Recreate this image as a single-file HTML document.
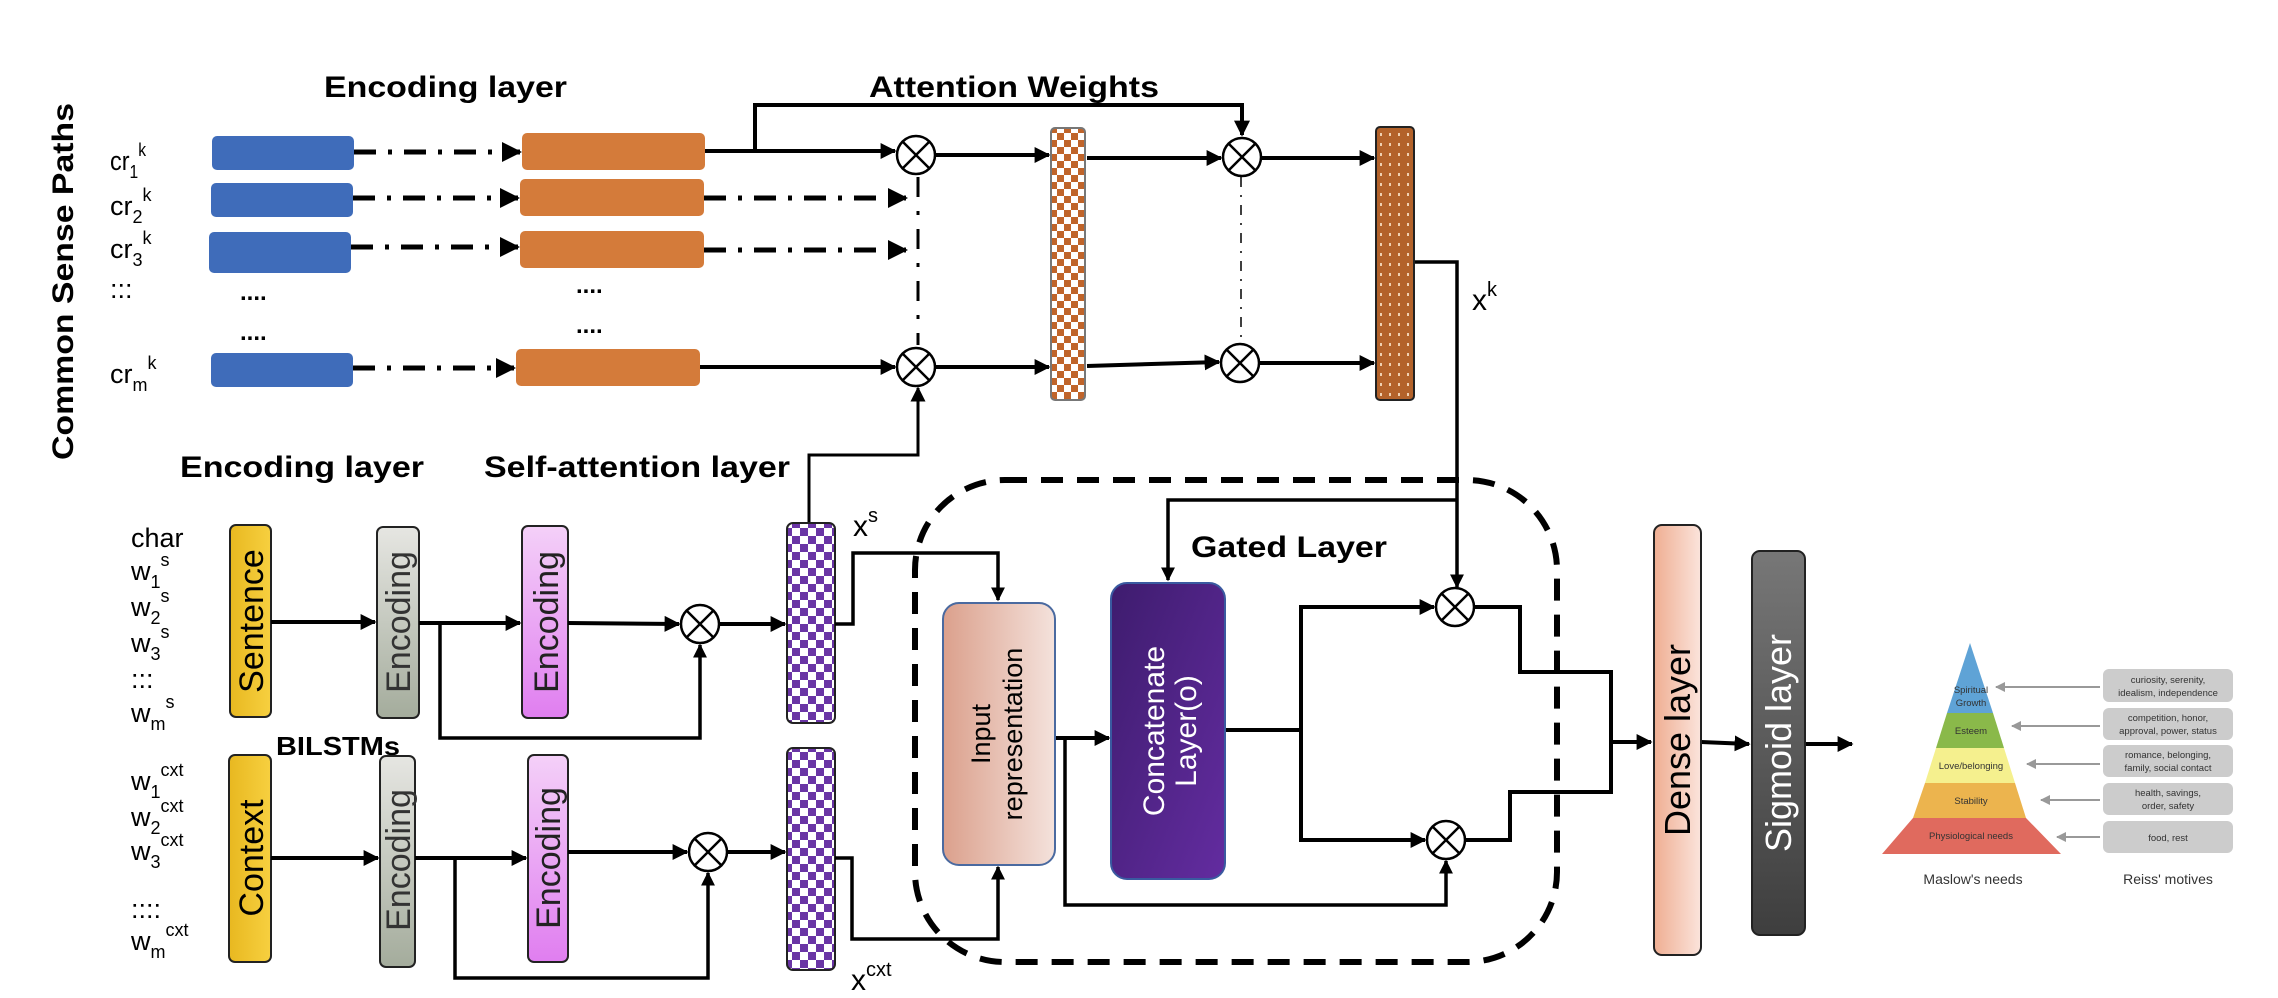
<!DOCTYPE html>
<html><head><meta charset="utf-8"><style>
html,body{margin:0;padding:0;background:#fff;}
svg{display:block;}
text{font-family:"Liberation Sans",sans-serif;}
</style></head><body>
<svg width="2278" height="998" viewBox="0 0 2278 998" xmlns="http://www.w3.org/2000/svg">
<defs>
<marker id="a" viewBox="0 0 10 10" refX="9" refY="5" markerWidth="4" markerHeight="4" orient="auto-start-reverse" markerUnits="strokeWidth"><path d="M0,0L10,5L0,10z" fill="#000"/></marker>
<marker id="ab" viewBox="0 0 10 10" refX="9" refY="5" markerWidth="5" markerHeight="5" orient="auto" markerUnits="strokeWidth"><path d="M0,0L10,5L0,10z" fill="#000"/></marker>
<marker id="ag" viewBox="0 0 10 10" refX="9" refY="5" markerWidth="5" markerHeight="6" orient="auto" markerUnits="strokeWidth"><path d="M0,0L10,5L0,10z" fill="#999"/></marker>
<pattern id="cp" width="16" height="16" patternUnits="userSpaceOnUse"><rect width="16" height="16" fill="#fff"/><rect width="8" height="8" fill="#6a35a5"/><rect x="8" y="8" width="8" height="8" fill="#6a35a5"/></pattern>
<pattern id="co" width="14" height="14" patternUnits="userSpaceOnUse"><rect width="14" height="14" fill="#fff"/><rect width="7" height="7" fill="#c0642a"/><rect x="7" y="7" width="7" height="7" fill="#c0642a"/></pattern>
<pattern id="dt" width="9" height="10" patternUnits="userSpaceOnUse"><rect width="9" height="10" fill="#b3622a"/><rect x="3" y="3" width="2" height="3" fill="#f0d0b0"/></pattern>
<linearGradient id="gy" x1="0" x2="1"><stop offset="0" stop-color="#e8b820"/><stop offset="1" stop-color="#f7d040"/></linearGradient>
<linearGradient id="gg" x1="0" x2="0" y1="0" y2="1"><stop offset="0" stop-color="#e6e6e2"/><stop offset="1" stop-color="#a4ac9c"/></linearGradient>
<linearGradient id="gp" x1="0" x2="0" y1="0" y2="1"><stop offset="0" stop-color="#f4d0f8"/><stop offset="1" stop-color="#e07ef0"/></linearGradient>
<linearGradient id="gs" x1="0" x2="1"><stop offset="0" stop-color="#dba08c"/><stop offset="1" stop-color="#f4e2dc"/></linearGradient>
<linearGradient id="gd" x1="0" x2="1"><stop offset="0" stop-color="#efae92"/><stop offset="1" stop-color="#fbe4dc"/></linearGradient>
<linearGradient id="gc" x1="0" y1="0" x2="1" y2="1"><stop offset="0" stop-color="#3e1c6e"/><stop offset="1" stop-color="#632ca0"/></linearGradient>
<linearGradient id="gm" x1="0" x2="0" y1="0" y2="1"><stop offset="0" stop-color="#777"/><stop offset="1" stop-color="#3e3e3e"/></linearGradient>
<g id="ot"><circle r="19" fill="#fff" stroke="#000" stroke-width="2.5"/><path d="M-13,-13L13,13M13,-13L-13,13" stroke="#000" stroke-width="2.5"/></g>
</defs>

<!-- Titles -->
<text x="65" y="460" transform="rotate(-90 65 460)" font-size="30" font-weight="bold" textLength="357" lengthAdjust="spacingAndGlyphs" dominant-baseline="middle">Common Sense Paths</text>
<text x="324" y="97" font-size="30" font-weight="bold" textLength="243" lengthAdjust="spacingAndGlyphs">Encoding layer</text>
<text x="869" y="97" font-size="30" font-weight="bold" textLength="290" lengthAdjust="spacingAndGlyphs">Attention Weights</text>
<text x="180" y="477" font-size="30" font-weight="bold" textLength="244" lengthAdjust="spacingAndGlyphs">Encoding layer</text>
<text x="484" y="477" font-size="30" font-weight="bold" textLength="306" lengthAdjust="spacingAndGlyphs">Self-attention layer</text>
<text x="1191" y="557" font-size="30" font-weight="bold" textLength="196" lengthAdjust="spacingAndGlyphs">Gated Layer</text>
<text x="276" y="755" font-size="26" font-weight="bold" textLength="124" lengthAdjust="spacingAndGlyphs">BILSTMs</text>

<!-- cr labels -->
<g font-size="27">
<text x="110" y="170" textLength="36" lengthAdjust="spacingAndGlyphs">cr<tspan font-size="18" dy="8">1</tspan><tspan font-size="18" dy="-22">k</tspan></text>
<text x="110" y="215">cr<tspan font-size="18" dy="8">2</tspan><tspan font-size="18" dy="-22">k</tspan></text>
<text x="110" y="258">cr<tspan font-size="18" dy="8">3</tspan><tspan font-size="18" dy="-22">k</tspan></text>
<text x="110" y="298">:::</text>
<text x="110" y="383">cr<tspan font-size="18" dy="8">m</tspan><tspan font-size="18" dy="-22">k</tspan></text>
</g>
<g font-size="24" font-weight="bold">
<text x="240" y="300">....</text><text x="240" y="340">....</text>
<text x="576" y="293">....</text><text x="576" y="333">....</text>
</g>

<!-- blue & orange boxes -->
<g fill="#3f6cba">
<rect x="212" y="136" width="142" height="34" rx="5"/>
<rect x="211" y="183" width="142" height="34" rx="5"/>
<rect x="209" y="232" width="142" height="41" rx="5"/>
<rect x="211" y="353" width="142" height="34" rx="5"/>
</g>
<g fill="#d47b3a">
<rect x="522" y="133" width="183" height="37" rx="5"/>
<rect x="520" y="179" width="184" height="37" rx="5"/>
<rect x="520" y="231" width="184" height="37" rx="5"/>
<rect x="516" y="349" width="184" height="37" rx="5"/>
</g>

<!-- dash-dot connectors -->
<g stroke="#000" stroke-width="5" fill="none" stroke-dasharray="22 12 4 12" marker-end="url(#a)">
<path d="M354,152H520"/>
<path d="M353,198H518"/>
<path d="M351,247H518"/>
<path d="M353,368H514"/>
<path d="M704,198H906" />
<path d="M704,250H906"/>
</g>
<path d="M918,177V345" stroke="#000" stroke-width="3" stroke-dasharray="20 14 4 14" fill="none"/>

<!-- top solid connections -->
<g stroke="#000" stroke-width="4" fill="none">
<path d="M705,151H895" marker-end="url(#a)"/>
<path d="M700,367H895" marker-end="url(#a)"/>
<path d="M755,151V105H1242V135" marker-end="url(#a)"/>
<path d="M935,155H1049" marker-end="url(#a)"/>
<path d="M935,367H1049" marker-end="url(#a)"/>
<path d="M1087,158H1221" marker-end="url(#a)"/>
<path d="M1087,366L1219,362" marker-end="url(#a)"/>
<path d="M1261,158H1374" marker-end="url(#a)"/>
<path d="M1259,363H1374" marker-end="url(#a)"/>
<path d="M809,523V455H918V388" stroke-width="3" marker-end="url(#ab)"/>
<path d="M1415,262H1457V587" stroke-width="3.5" marker-end="url(#a)"/>
<path d="M1457,500H1168V580" stroke-width="3.5" marker-end="url(#a)"/>
</g>
<path d="M1241,177V343" stroke="#000" stroke-width="1.5" stroke-dasharray="10 8 2 8" fill="none"/>

<use href="#ot" x="916" y="155"/>
<use href="#ot" x="916" y="367"/>
<use href="#ot" x="1242" y="157"/>
<use href="#ot" x="1240" y="363"/>

<rect x="1051" y="128" width="34" height="272" rx="4" fill="url(#co)" stroke="#777" stroke-width="2"/>
<rect x="1376" y="127" width="38" height="273" rx="4" fill="url(#dt)" stroke="#222" stroke-width="2"/>
<text x="1472" y="310" font-size="30">x<tspan font-size="20" dy="-14">k</tspan></text>

<!-- dashed gated layer -->
<rect x="915" y="480" width="642" height="482" rx="90" fill="none" stroke="#000" stroke-width="6" stroke-dasharray="22 14"/>

<!-- input labels lower -->
<g font-size="27">
<text x="131" y="547">char</text>
<text x="131" y="580">w<tspan font-size="18" dy="8">1</tspan><tspan font-size="18" dy="-22">s</tspan></text>
<text x="131" y="616">w<tspan font-size="18" dy="8">2</tspan><tspan font-size="18" dy="-22">s</tspan></text>
<text x="131" y="652">w<tspan font-size="18" dy="8">3</tspan><tspan font-size="18" dy="-22">s</tspan></text>
<text x="131" y="688">:::</text>
<text x="131" y="722">w<tspan font-size="18" dy="8">m</tspan><tspan font-size="18" dy="-22">s</tspan></text>
<text x="131" y="790">w<tspan font-size="18" dy="8">1</tspan><tspan font-size="18" dy="-22">cxt</tspan></text>
<text x="131" y="826">w<tspan font-size="18" dy="8">2</tspan><tspan font-size="18" dy="-22">cxt</tspan></text>
<text x="131" y="860">w<tspan font-size="18" dy="8">3</tspan><tspan font-size="18" dy="-22">cxt</tspan></text>
<text x="131" y="918">::::</text>
<text x="131" y="950">w<tspan font-size="18" dy="8">m</tspan><tspan font-size="18" dy="-22">cxt</tspan></text>
<text x="853" y="536" font-size="30">x<tspan font-size="20" dy="-14">s</tspan></text>
<text x="851" y="990" font-size="30">x<tspan font-size="20" dy="-14">cxt</tspan></text>
</g>

<!-- lower boxes -->
<g stroke="#222" stroke-width="2">
<rect x="230" y="525" width="41" height="192" rx="6" fill="url(#gy)"/>
<rect x="377" y="527" width="42" height="191" rx="6" fill="url(#gg)"/>
<rect x="522" y="526" width="46" height="192" rx="6" fill="url(#gp)"/>
<rect x="229" y="755" width="42" height="207" rx="6" fill="url(#gy)"/>
<rect x="380" y="756" width="35" height="211" rx="6" fill="url(#gg)"/>
<rect x="528" y="755" width="40" height="207" rx="6" fill="url(#gp)"/>
<rect x="787" y="523" width="48" height="200" rx="6" fill="url(#cp)"/>
<rect x="787" y="748" width="48" height="222" rx="6" fill="url(#cp)"/>
</g>
<g font-size="34">
<text transform="translate(263,621) rotate(-90)" text-anchor="middle">Sentence</text>
<text transform="translate(410,622) rotate(-90)" text-anchor="middle" fill="#333">Encoding</text>
<text transform="translate(558,622) rotate(-90)" text-anchor="middle" fill="#222">Encoding</text>
<text transform="translate(263,858) rotate(-90)" text-anchor="middle">Context</text>
<text transform="translate(410,860) rotate(-90)" text-anchor="middle" fill="#333">Encoding</text>
<text transform="translate(560,858) rotate(-90)" text-anchor="middle" fill="#222">Encoding</text>
</g>

<g stroke="#000" stroke-width="4" fill="none">
<path d="M271,622H375" marker-end="url(#a)"/>
<path d="M419,623H520" marker-end="url(#a)"/>
<path d="M568,623L679,624" marker-end="url(#a)"/>
<path d="M440,623V738H700V645" stroke-width="3.5" marker-end="url(#a)"/>
<path d="M720,624H785" marker-end="url(#a)"/>
<path d="M271,858H378" marker-end="url(#a)"/>
<path d="M415,858H526" marker-end="url(#a)"/>
<path d="M568,852H687" marker-end="url(#a)"/>
<path d="M455,858V978H708V873" stroke-width="3.5" marker-end="url(#a)"/>
<path d="M728,852H785" marker-end="url(#a)"/>
<path d="M835,624H853V553H998V600" stroke-width="3.5" marker-end="url(#a)"/>
<path d="M835,858H852V939H998V867" stroke-width="3.5" marker-end="url(#a)"/>
<path d="M1055,738H1109" marker-end="url(#a)"/>
<path d="M1065,738V905H1446V861" stroke-width="3.5" marker-end="url(#a)"/>
<path d="M1225,730H1301V607H1434" marker-end="url(#a)"/>
<path d="M1301,730V840H1425" marker-end="url(#a)"/>
<path d="M1475,607H1520V672H1611V792H1510V840H1466"/>
<path d="M1611,742H1651" marker-end="url(#a)"/>
<path d="M1701,742L1749,744" marker-end="url(#a)"/>
<path d="M1805,744H1852" marker-end="url(#a)"/>
</g>
<use href="#ot" x="700" y="624"/>
<use href="#ot" x="708" y="852"/>
<use href="#ot" x="1455" y="607"/>
<use href="#ot" x="1446" y="840"/>

<rect x="943" y="603" width="112" height="262" rx="16" fill="url(#gs)" stroke="#4a6aa0" stroke-width="2"/>
<text transform="translate(990,734) rotate(-90)" text-anchor="middle" font-size="27">Input</text>
<text transform="translate(1022,734) rotate(-90)" text-anchor="middle" font-size="27">representation</text>
<rect x="1111" y="583" width="114" height="296" rx="16" fill="url(#gc)" stroke="#3a5aa0" stroke-width="2"/>
<text transform="translate(1164,731) rotate(-90)" text-anchor="middle" font-size="30" fill="#fff">Concatenate</text>
<text transform="translate(1196,731) rotate(-90)" text-anchor="middle" font-size="30" fill="#fff">Layer(o)</text>

<rect x="1654" y="525" width="47" height="430" rx="8" fill="url(#gd)" stroke="#222" stroke-width="2"/>
<text transform="translate(1690,740) rotate(-90)" text-anchor="middle" font-size="36">Dense layer</text>
<rect x="1752" y="551" width="53" height="384" rx="8" fill="url(#gm)" stroke="#222" stroke-width="2"/>
<text transform="translate(1791,743) rotate(-90)" text-anchor="middle" font-size="36" fill="#fff">Sigmoid layer</text>

<!-- pyramid -->
<polygon points="1970,643 1993,713 1947,713" fill="#5fa3d6"/>
<polygon points="1947,713 1993,713 2004,748 1936,748" fill="#8ab94a"/>
<polygon points="1936,748 2004,748 2015,783 1925,783" fill="#f5f08e"/>
<polygon points="1925,783 2015,783 2026,818 1913,818" fill="#ecb44e"/>
<polygon points="1913,818 2026,818 2061,854 1882,854" fill="#e06a5e"/>
<polygon points="1970,643 2061,854 1882,854" fill="none"/>
<g font-size="9.5" text-anchor="middle" fill="#333">
<text x="1971" y="693">Spiritual</text><text x="1971" y="706">Growth</text>
<text x="1971" y="734">Esteem</text>
<text x="1971" y="769">Love/belonging</text>
<text x="1971" y="804">Stability</text>
<text x="1971" y="839">Physiological needs</text>
</g>
<g fill="#ccc">
<rect x="2103" y="669" width="130" height="33" rx="6"/>
<rect x="2103" y="708" width="130" height="32" rx="6"/>
<rect x="2103" y="745" width="130" height="32" rx="6"/>
<rect x="2103" y="783" width="130" height="32" rx="6"/>
<rect x="2103" y="821" width="130" height="32" rx="6"/>
</g>
<g font-size="9.5" text-anchor="middle" fill="#333">
<text x="2168" y="683">curiosity, serenity,</text><text x="2168" y="696">idealism, independence</text>
<text x="2168" y="721">competition, honor,</text><text x="2168" y="734">approval, power, status</text>
<text x="2168" y="758">romance, belonging,</text><text x="2168" y="771">family, social contact</text>
<text x="2168" y="796">health, savings,</text><text x="2168" y="809">order, safety</text>
<text x="2168" y="841">food, rest</text>
</g>
<g stroke="#999" stroke-width="2" marker-end="url(#ag)">
<path d="M2100,687H1996"/><path d="M2100,726H2012"/><path d="M2100,764H2027"/><path d="M2100,800H2041"/><path d="M2100,837H2057"/>
</g>
<text x="1973" y="884" font-size="14" text-anchor="middle" fill="#333">Maslow's needs</text>
<text x="2168" y="884" font-size="14" text-anchor="middle" fill="#333">Reiss' motives</text>
</svg>
</body></html>
